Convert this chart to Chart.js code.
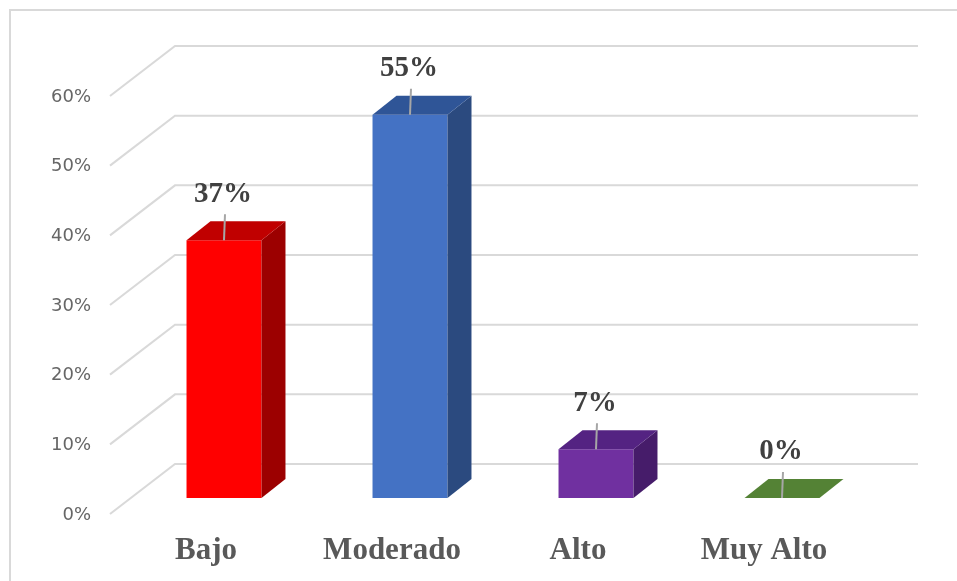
<!DOCTYPE html>
<html>
<head>
<meta charset="utf-8">
<script src="https://cdn.jsdelivr.net/npm/chart.js@4.4.1/dist/chart.umd.min.js"></script>
<style>
html,body{margin:0;padding:0;background:#fff;}
canvas{display:block;}
</style>
</head>
<body>
<canvas id="c" width="957" height="581"></canvas>
<script>
// ---- data ----
const categories = ['Bajo', 'Moderado', 'Alto', 'Muy Alto'];
const values = [0.37, 0.55, 0.07, 0.00];
const yTicks = [0, 0.1, 0.2, 0.3, 0.4, 0.5, 0.6];

// ---- styles ----
const frontColors = ['#FF0000', '#4472C4', '#7030A0', '#548235'];
const topColors   = ['#C00000', '#2F5597', '#542382', '#548235'];
const sideColors  = ['#9C0000', '#2B4A7F', '#461C6A', '#3F6428'];
const DX = 24, DY = -19;

const pct = v => Math.round(v * 100) + '%';

const frame = {
  id: 'frame',
  beforeDraw(chart) {
    const ctx = chart.ctx;
    ctx.save();
    ctx.fillStyle = '#fff';
    ctx.fillRect(0, 0, chart.width, chart.height);
    ctx.strokeStyle = '#d9d9d9';
    ctx.lineWidth = 2;
    ctx.strokeRect(10, 10, 1000, 700);
    ctx.restore();
  }
};

const grid3d = {
  id: 'grid3d',
  beforeDatasetsDraw(chart) {
    const ctx = chart.ctx, a = chart.chartArea, ys = chart.scales.y;
    ctx.save();
    ctx.strokeStyle = '#d9d9d9';
    ctx.lineWidth = 2;
    yTicks.forEach(v => {
      const py = ys.getPixelForValue(v);
      ctx.beginPath();
      ctx.moveTo(a.left - 21, py + 16);
      ctx.lineTo(a.left + 44, py - 34);
      ctx.lineTo(a.right + 43, py - 34);
      ctx.stroke();
    });
    ctx.restore();
  }
};

const bars3d = {
  id: 'bars3d',
  afterDatasetsDraw(chart) {
    const ctx = chart.ctx;
    const meta = chart.getDatasetMeta(0);
    ctx.save();
    meta.data.forEach((bar, i) => {
      const p = bar.getProps(['x', 'y', 'base', 'width'], true);
      const l = p.x - p.width / 2, r = p.x + p.width / 2, t = p.y, b = p.base;
      // side
      ctx.fillStyle = sideColors[i];
      ctx.beginPath();
      ctx.moveTo(r, t); ctx.lineTo(r + DX, t + DY); ctx.lineTo(r + DX, b + DY); ctx.lineTo(r, b);
      ctx.closePath(); ctx.fill();
      // top
      ctx.fillStyle = topColors[i];
      ctx.beginPath();
      ctx.moveTo(l, t); ctx.lineTo(l + DX, t + DY); ctx.lineTo(r + DX, t + DY); ctx.lineTo(r, t);
      ctx.closePath(); ctx.fill();
      // leader line + label
      const ly = t - 46;
      ctx.strokeStyle = '#a6a6a6';
      ctx.lineWidth = 2;
      ctx.beginPath();
      ctx.moveTo(p.x + 1, ly + 20);
      ctx.lineTo(p.x, t);
      ctx.stroke();
      ctx.fillStyle = '#404040';
      ctx.font = 'bold 29px "Liberation Serif", "DejaVu Serif", serif';
      ctx.textAlign = 'center';
      ctx.textBaseline = 'middle';
      ctx.fillText(pct(values[i]), p.x - 1, ly);
    });
    ctx.restore();
  }
};

new Chart(document.getElementById('c'), {
  type: 'bar',
  data: {
    labels: categories,
    datasets: [{
      data: values,
      backgroundColor: frontColors,
      borderWidth: 0,
      categoryPercentage: 0.403,
      barPercentage: 1
    }]
  },
  options: {
    responsive: false,
    animation: false,
    layout: { padding: { top: 80, right: 82, left: 0, bottom: 0 } },
    plugins: { legend: { display: false }, tooltip: { enabled: false } },
    scales: {
      x: {
        grid: { display: false, drawTicks: false },
        border: { display: false },
        afterFit(s) { s.height = 83; },
        ticks: {
          padding: 34,
          labelOffset: -18,
          color: '#595959',
          font: { family: '"Liberation Serif", "DejaVu Serif", serif', size: 31, weight: 'bold' }
        }
      },
      y: {
        min: 0, max: 0.6,
        grid: { display: false, drawTicks: false },
        border: { display: false },
        afterFit(s) { s.width = 131; },
        afterBuildTicks(s) { s.ticks = yTicks.map(v => ({ value: v })); },
        ticks: {
          padding: 40,
          labelOffset: 17,
          color: '#666666',
          font: { family: '"DejaVu Sans", sans-serif', size: 18 },
          callback: v => pct(v)
        }
      }
    }
  },
  plugins: [frame, grid3d, bars3d]
});
</script>
</body>
</html>
